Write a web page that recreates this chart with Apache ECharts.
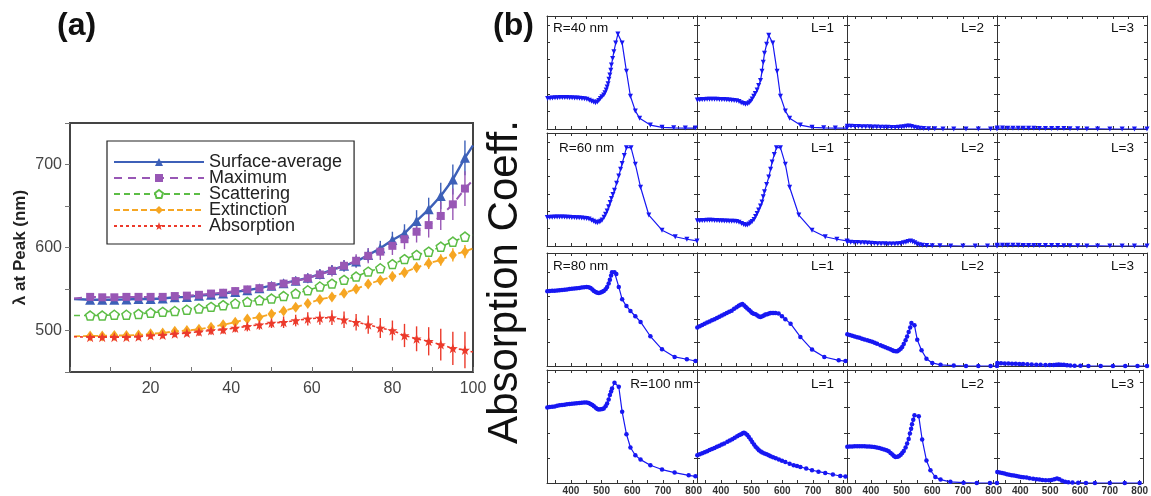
<!DOCTYPE html>
<html><head><meta charset="utf-8">
<script src="https://cdn.jsdelivr.net/npm/echarts@6/dist/echarts.min.js"></script>
<style>html,body{margin:0;padding:0;background:#fff}#c{width:1151px;height:496px}</style>
</head><body><div id="c"></div>
<script>
// ---------- Panel (a) data ----------
const sizes = [5,8,11,14,17,20,23,26,29,32,35,38,41,44,47,50,53,56,59,62,65,68,71,74,77,80,83,86,89,92,95,98];
const surfaceAvg = [537,537,537,537.5,538,538,538.5,540,540.5,542,543,544.5,546.5,548.5,551,554,557,560,563.5,568,573,578,583,591,599,609,617,632,646,662,682,708];
const maximum    = [540.5,540,540,540.5,540.5,540.5,540.5,541.5,542,543,544.5,545.5,547.5,549.5,551,553.5,556.5,559.5,563,567.5,572,578,584,590,595,602,610,619,627,638,652,671];
const scattering = [518,518,519,519,520,521.5,522.5,523.5,525,526.5,528.5,530.5,532.5,534.5,536.5,538.5,541.5,544.5,548.5,553,556.5,561,565,571,575,580,586,591,595,601,607,613];
const extinction = [493.5,493.5,494,494,494.5,496,497,499,500,501.5,504,507,510,514,516,520,523.5,528,532.5,537.5,540.5,545,550,556,560.5,565,570,576,581,585,591,595];
const absorption = [492,492,492,492,492.5,494,494.5,496,497,498.5,500,501,503,505,507,509,510,512,514,515,515.5,513,510,507,503,500,494,490,487,483,478.5,476.5];
const errSurface    = [2,2,2,2,2,2,2,2,3,3,3,3,3,3,4,4,4,5,5,6,6,7,7,8,9,10,11,13,14,16,18,21];
const errMaximum    = [2,2,2,2,2,2,2,3,3,3,3,3,4,4,4,5,5,5,6,6,7,7,8,9,10,11,12,13,15,17,19,21];
const errScattering = [2,2,2,2,2,2,2,2,2,2,2,2,3,3,3,3,3,3,3,3,4,4,4,4,4,5,5,5,5,6,6,6];
const errExtinction = [2,2,2,2,2,2,2,2,2,3,3,3,3,3,3,3,4,4,4,4,4,5,5,5,5,6,6,6,7,7,8,8];
const errAbsorption = [3,3,3,3,3,4,4,4,4,5,5,5,5,6,6,6,7,7,8,8,9,10,10,11,12,12,14,15,17,19,20,22];
// line ends at x=1 and x=100 (no marker)
const lineStart = {surface:538, maximum:538.5, scattering:518, extinction:493, absorption:492.5};
const lineEnd   = {surface:723, maximum:681, scattering:615, extinction:599, absorption:474};
const yTicksA = [500,600,700];

// ---------- Panel (b) data : [wavelength nm, normalized absorption] ----------
const r40 = [[324,.27],[332,.272],[340,.274],[348,.276],[356,.277],[364,.278],[372,.278],[380,.278],[388,.278],[396,.277],[404,.276],[412,.275],[420,.274],[428,.273],[436,.271],[444,.268],[452,.263],[460,.255],[467,.246],[474,.238],[480,.233],[486,.24],[491,.252],[496,.27],[501,.285],[507,.30],[511,.32],[515,.345],[518,.372],[521,.40],[524,.44],[527,.478],[530,.52],[532,.566],[536,.625],[540,.684],[546,.76],[553,.84],[567,.76],[581,.51],[594,.29],[610,.16],[624,.095],[659,.035],[697,.015],[735,.01],[773,.008],[806,.008]];
const r40L1 = [[323,.257],[331,.258],[339,.26],[347,.262],[355,.263],[363,.264],[371,.264],[379,.264],[387,.263],[395,.262],[403,.261],[411,.26],[419,.258],[427,.256],[435,.254],[443,.252],[451,.25],[459,.243],[466,.233],[473,.225],[480,.22],[487,.224],[492,.232],[497,.245],[502,.265],[507,.29],[512,.315],[518,.345],[523,.385],[529,.43],[534,.51],[538,.59],[542,.67],[549,.75],[556,.83],[569,.76],[583,.51],[594,.29],[610,.16],[624,.095],[659,.035],[697,.015],[735,.01],[773,.008],[811,.008]];
const r40L2 = [[323,.025],[335,.024],[347,.023],[359,.022],[371,.021],[383,.02],[395,.019],[407,.018],[419,.017],[431,.016],[443,.015],[455,.015],[467,.014],[479,.014],[490,.015],[500,.017],[508,.02],[516,.024],[524,.026],[532,.023],[541,.016],[550,.01],[560,.006],[572,.004],[588,.003],[608,.002],[635,.001],[670,0],[710,0],[750,0],[790,0],[811,0]];
const r40L3 = [[323,.008],[340,.008],[357,.007],[374,.007],[391,.007],[408,.006],[425,.006],[442,.006],[460,.005],[480,.005],[500,.005],[520,.005],[540,.004],[560,.003],[585,.002],[615,.001],[650,.001],[690,0],[730,0],[770,0],[811,0]];
const r60 = [[323,.253],[331,.254],[339,.255],[347,.256],[355,.257],[363,.257],[371,.257],[379,.256],[387,.255],[395,.254],[403,.253],[411,.252],[419,.251],[427,.25],[435,.248],[443,.246],[451,.244],[459,.238],[467,.228],[474,.218],[480,.21],[486,.206],[492,.212],[497,.22],[502,.23],[508,.255],[513,.28],[518,.31],[523,.347],[528,.385],[532,.42],[537,.455],[542,.494],[549,.555],[556,.62],[562,.68],[567,.73],[574,.8],[581,.87],[596,.87],[610,.724],[627,.52],[654,.274],[697,.14],[740,.082],[778,.06],[811,.045]];
const r60L1 = [[323,.223],[331,.224],[339,.225],[347,.226],[355,.227],[363,.227],[371,.227],[379,.226],[387,.225],[395,.224],[403,.223],[411,.222],[419,.221],[427,.22],[435,.219],[443,.218],[451,.216],[459,.21],[467,.2],[474,.19],[480,.186],[486,.185],[492,.195],[497,.205],[502,.216],[508,.235],[513,.26],[518,.288],[523,.318],[529,.355],[534,.39],[538,.435],[542,.48],[549,.545],[556,.61],[562,.68],[567,.744],[574,.81],[581,.87],[594,.87],[610,.724],[624,.52],[654,.274],[697,.14],[740,.082],[778,.06],[811,.045]];
const r60L2 = [[323,.035],[334,.034],[345,.032],[356,.031],[367,.029],[378,.028],[389,.026],[400,.024],[411,.023],[422,.021],[433,.02],[445,.019],[456,.018],[467,.018],[478,.018],[488,.02],[497,.023],[506,.028],[514,.034],[521,.039],[529,.044],[536,.038],[543,.028],[550,.018],[558,.01],[568,.006],[582,.004],[600,.003],[625,.002],[660,.001],[700,0],[740,0],[780,0],[811,0]];
const r60L3 = [[323,.007],[340,.007],[357,.006],[374,.006],[391,.006],[408,.005],[425,.005],[442,.005],[460,.004],[480,.004],[500,.004],[520,.004],[540,.003],[560,.003],[585,.002],[615,.001],[650,.001],[690,0],[730,0],[770,0],[811,0]];
const r80 = [[323,.661],[331,.663],[339,.665],[347,.667],[355,.669],[363,.67],[371,.672],[379,.675],[387,.678],[395,.681],[403,.683],[411,.685],[419,.688],[427,.691],[435,.694],[443,.697],[451,.70],[458,.697],[464,.69],[470,.678],[475,.664],[481,.654],[486,.648],[491,.646],[497,.65],[502,.656],[507,.664],[513,.68],[518,.70],[523,.73],[527,.764],[531,.8],[534,.83],[542,.83],[548,.815],[556,.70],[567,.59],[581,.53],[594,.487],[610,.44],[627,.39],[659,.263],[697,.148],[738,.08],[778,.06],[806,.044]];
const r80L1 = [[323,.34],[331,.351],[339,.362],[347,.373],[355,.384],[363,.394],[371,.404],[379,.414],[387,.425],[395,.436],[403,.447],[411,.458],[419,.47],[427,.48],[435,.49],[443,.506],[451,.52],[458,.533],[464,.543],[470,.548],[476,.535],[481,.522],[486,.508],[492,.495],[497,.482],[502,.47],[507,.462],[513,.457],[519,.446],[524,.438],[529,.434],[535,.44],[540,.448],[545,.455],[551,.457],[557,.465],[562,.468],[567,.469],[572,.469],[578,.468],[588,.464],[599,.44],[610,.413],[627,.375],[659,.257],[697,.145],[737,.08],[784,.05],[806,.044]];
const r80L2 = [[323,.28],[331,.275],[339,.268],[347,.262],[355,.255],[363,.249],[371,.242],[379,.235],[388,.227],[396,.222],[404,.214],[412,.205],[420,.197],[431,.183],[439,.175],[447,.165],[455,.157],[463,.148],[470,.14],[475,.133],[481,.13],[486,.13],[491,.14],[497,.152],[502,.168],[507,.195],[513,.227],[518,.26],[523,.30],[528,.34],[532,.38],[542,.36],[551,.233],[565,.139],[581,.065],[600,.027],[627,.01],[670,.004],[710,0],[750,0],[790,0],[811,0]];
const r80L3 = [[323,.027],[335,.025],[347,.023],[359,.022],[371,.021],[383,.019],[395,.018],[407,.017],[421,.015],[435,.013],[450,.011],[464,.01],[480,.009],[494,.009],[507,.009],[515,.011],[523,.013],[531,.012],[540,.01],[550,.007],[561,.004],[575,.003],[594,.002],[620,.001],[660,0],[700,0],[740,0],[780,0],[811,0]];
const r100 = [[323,.669],[331,.672],[339,.675],[347,.678],[355,.683],[363,.687],[371,.69],[379,.693],[387,.697],[395,.70],[403,.702],[411,.704],[419,.706],[427,.708],[435,.71],[443,.712],[451,.713],[458,.708],[464,.70],[470,.69],[475,.68],[481,.665],[486,.655],[491,.651],[497,.652],[502,.655],[507,.66],[513,.68],[518,.704],[523,.74],[527,.778],[531,.81],[534,.837],[542,.887],[556,.852],[567,.63],[581,.432],[594,.314],[610,.246],[627,.207],[659,.157],[697,.119],[738,.092],[784,.068],[806,.059]];
const r100L1 = [[323,.246],[331,.255],[339,.264],[347,.273],[355,.282],[363,.291],[371,.3],[379,.31],[387,.32],[395,.33],[403,.34],[411,.35],[421,.364],[429,.376],[437,.388],[445,.40],[453,.413],[460,.424],[466,.432],[471,.44],[475,.444],[480,.438],[486,.425],[491,.408],[497,.385],[502,.362],[508,.34],[513,.32],[519,.305],[524,.29],[530,.278],[535,.27],[542,.262],[549,.254],[556,.245],[562,.237],[570,.228],[579,.22],[589,.207],[599,.197],[610,.186],[624,.17],[637,.157],[648,.15],[659,.142],[678,.128],[697,.113],[718,.1],[740,.089],[765,.075],[789,.062],[806,.057]];
const r100L2 = [[323,.32],[331,.322],[339,.324],[347,.325],[355,.326],[363,.326],[371,.326],[379,.325],[387,.324],[395,.322],[403,.32],[411,.318],[419,.315],[427,.31],[435,.304],[443,.297],[451,.29],[458,.28],[464,.266],[470,.252],[475,.24],[480,.231],[486,.232],[491,.236],[497,.25],[502,.265],[507,.284],[513,.315],[518,.35],[523,.39],[527,.438],[531,.48],[534,.521],[538,.56],[542,.60],[556,.59],[567,.385],[581,.20],[594,.113],[610,.053],[627,.03],[659,.01],[702,.003],[745,0],[788,0],[811,0]];
const r100L3 = [[323,.098],[331,.093],[339,.088],[347,.083],[355,.078],[363,.073],[371,.069],[379,.066],[387,.062],[395,.058],[403,.054],[411,.051],[421,.048],[431,.043],[443,.038],[454,.034],[464,.03],[474,.027],[485,.025],[496,.024],[505,.027],[514,.033],[523,.039],[531,.034],[540,.02],[550,.012],[561,.006],[575,.004],[594,.002],[620,.001],[650,0],[700,0],[750,0],[800,0]];

const cellCurves = [[r40,r40L1,r40L2,r40L3],[r60,r60L1,r60L2,r60L3],[r80,r80L1,r80L2,r80L3],[r100,r100L1,r100L2,r100L3]];
const cellLabels = [["R=40 nm","L=1","L=2","L=3"],["R=60 nm","L=1","L=2","L=3"],["R=80 nm","L=1","L=2","L=3"],["R=100 nm","L=1","L=2","L=3"]];
const wlTicks = [350,400,450,500,550,600,650,700,750,800];
const wlLabels = [400,500,600,700,800];

// ---------- build ----------
const FONT = 'Liberation Sans, Arial, sans-serif';
const grids=[], xAxes=[], yAxes=[], series=[], graphics=[];

// Panel (a)
grids.push({left:70, top:123, width:403, height:249, show:true, borderColor:'#444', borderWidth:2});
xAxes.push({gridIndex:0, type:'value', min:0, max:100, interval:20,
  axisLine:{show:true, onZero:false, lineStyle:{color:'#444', width:2}},
  axisTick:{show:true, inside:true, length:5, lineStyle:{color:'#777'}},
  minorTick:{show:true, splitNumber:2, length:5, lineStyle:{color:'#777'}},
  splitLine:{show:false},
  axisLabel:{showMinLabel:false, color:'#444', fontSize:16, margin:9, fontFamily:FONT}});
yAxes.push({gridIndex:0, type:'value', min:450, max:750, interval:50,
  name:'λ at Peak (nm)', nameLocation:'middle', nameGap:41,
  nameTextStyle:{fontSize:17, fontWeight:'bold', color:'#222', fontFamily:FONT},
  axisLine:{show:true, onZero:false, lineStyle:{color:'#444', width:2}},
  axisTick:{show:true, inside:false, length:5, lineStyle:{color:'#777'}},
  splitLine:{show:false},
  axisLabel:{color:'#444', fontSize:16, margin:8, fontFamily:FONT,
    formatter:v=> yTicksA.includes(v) ? String(v) : ''}});

const pentagon = 'path://M0,-10 L9.5,-3.1 L5.9,8.1 L-5.9,8.1 L-9.5,-3.1 Z';
const star = 'path://M0,-10 L2.4,-3.3 L9.5,-3.1 L3.8,1.3 L5.9,8.1 L0,4 L-5.9,8.1 L-3.8,1.3 L-9.5,-3.1 L-2.4,-3.3 Z';
const specs = [
  {name:'Surface-average', vals:surfaceAvg, errs:errSurface, s:lineStart.surface, e:lineEnd.surface, color:'#3d60b8', symbol:'triangle', size:10, lw:2.4, type:'solid', fill:null},
  {name:'Maximum', vals:maximum, errs:errMaximum, s:lineStart.maximum, e:lineEnd.maximum, color:'#9857b5', symbol:'rect', size:8, lw:2, type:[8,6], fill:null},
  {name:'Scattering', vals:scattering, errs:errScattering, s:lineStart.scattering, e:lineEnd.scattering, color:'#5cbd45', symbol:pentagon, size:9, lw:1.6, type:[6,4], fill:'#ffffff'},
  {name:'Extinction', vals:extinction, errs:errExtinction, s:lineStart.extinction, e:lineEnd.extinction, color:'#f6a623', symbol:'diamond', size:[8,11], lw:1.8, type:[6,3], fill:null},
  {name:'Absorption', vals:absorption, errs:errAbsorption, s:lineStart.absorption, e:lineEnd.absorption, color:'#ec3a2b', symbol:star, size:10, lw:1.6, type:[3,3], fill:null}
];
specs.forEach((sp) => {
  series.push({type:'custom', xAxisIndex:0, yAxisIndex:0, silent:true, z:1,
    data: sizes.map((x,i)=>[x, sp.vals[i]-sp.errs[i], sp.vals[i]+sp.errs[i]]),
    encode:{x:0, y:[1,2]},
    renderItem:(params, api)=>{
      const a = api.coord([api.value(0), api.value(1)]);
      const b = api.coord([api.value(0), api.value(2)]);
      return {type:'line', shape:{x1:a[0], y1:a[1], x2:b[0], y2:b[1]}, style:{stroke:sp.color, lineWidth:1.4}};
    }});
  const data = [{value:[1, sp.s], symbol:'none'}]
    .concat(sizes.map((x,i)=>[x, sp.vals[i]]))
    .concat([{value:[100, sp.e], symbol:'none'}]);
  series.push({type:'line', name:sp.name, xAxisIndex:0, yAxisIndex:0, z:3,
    data, symbol:sp.symbol, symbolSize:sp.size, showSymbol:true,
    lineStyle:{color:sp.color, width:sp.lw, type:sp.type},
    itemStyle: sp.fill ? {color:sp.fill, borderColor:sp.color, borderWidth:1.5} : {color:sp.color},
    color: sp.color});
});

// Panel (b)
const colLeft = [547, 697, 847, 997];
const rowTop = [16, 133, 253, 370];
const rowInterval = [0.1535, 0.1535, 0.207, 0.222];
const blue = '#1717f2';
let gi = 1;
for (let r=0; r<4; r++) {
  for (let c=0; c<4; c++) {
    grids.push({left:colLeft[c], top:rowTop[r], width:150, height:113});
    const axLine = {show:true, onZero:false, lineStyle:{color:'#333', width:1}};
    const tick = {show:true, inside:true, length:3, lineStyle:{color:'#333'}, customValues:wlTicks};
    const xb = xAxes.length;
    xAxes.push({gridIndex:gi, type:'value', min:322, max:811, axisLine:axLine, axisTick:tick, splitLine:{show:false},
      axisLabel:{show:r===3, customValues:wlLabels, fontSize:10, fontWeight:'bold', color:'#333', margin:3, fontFamily:FONT, hideOverlap:false}});
    xAxes.push({gridIndex:gi, type:'value', position:'top', min:322, max:811, axisLine:axLine, axisTick:tick, splitLine:{show:false}, axisLabel:{show:false}});
    const yl = yAxes.length;
    const ytick = {show:true, inside:true, length:3, lineStyle:{color:'#333'}};
    yAxes.push({gridIndex:gi, type:'value', min:0, max:1, interval:rowInterval[r], axisLine:axLine, axisTick:ytick, splitLine:{show:false}, axisLabel:{show:false}});
    yAxes.push({gridIndex:gi, type:'value', position:'right', min:0, max:1, interval:rowInterval[r], axisLine:axLine, axisTick:ytick, splitLine:{show:false}, axisLabel:{show:false}});
    series.push({type:'line', xAxisIndex:xb, yAxisIndex:yl, data:cellCurves[r][c],
      symbol: r<2 ? 'triangle' : 'circle', symbolRotate: r<2 ? 180 : 0, symbolSize: r<2 ? 5 : 4.5,
      lineStyle:{color:blue, width:1.2}, itemStyle:{color:blue}, z:2, silent:true});
    gi++;
  }
}

// text annotations
const labelY = [28, 148, 266, 384];
for (let r=0; r<4; r++) {
  for (let c=0; c<4; c++) {
    const txt = cellLabels[r][c];
    let x, align;
    if (c===0) {
      if (r===3) { x = 693; align='right'; }
      else { x = r===1 ? 559 : 553; align='left'; }
    } else { x = colLeft[c] + 150 - 13; align='right'; }
    graphics.push({type:'text', x:x, y:labelY[r], style:{text:txt, fill:'#111', font:'13.5px '+FONT, textAlign:align, textVerticalAlign:'middle'}, z:10});
  }
}
graphics.push({type:'text', x:57, y:26, style:{text:'(a)', fill:'#111', font:'bold 32px '+FONT, textAlign:'left', textVerticalAlign:'middle'}});
graphics.push({type:'text', x:493, y:26, style:{text:'(b)', fill:'#111', font:'bold 32px '+FONT, textAlign:'left', textVerticalAlign:'middle'}});
graphics.push({type:'text', x:505, y:282, rotation:Math.PI/2, style:{text:'Absorption Coeff.', fill:'#111', font:'42px '+FONT, textAlign:'center', textVerticalAlign:'middle'}});

const chart = echarts.init(document.getElementById('c'), null, {renderer:'canvas'});
chart.setOption({
  animation:false,
  backgroundColor:'#fff',
  textStyle:{fontFamily:FONT},
  legend:{data:specs.map(s=>s.name), left:107, top:141, orient:'vertical', itemWidth:90, itemHeight:10, itemGap:-2,
    padding:[12,12,9,6], borderColor:'#222', borderWidth:1.2, backgroundColor:'#fff',
    textStyle:{fontSize:18, color:'#222', fontFamily:FONT, lineHeight:16}, selectedMode:false},
  grid:grids, xAxis:xAxes, yAxis:yAxes, series, graphic:graphics
});
</script></body></html>
